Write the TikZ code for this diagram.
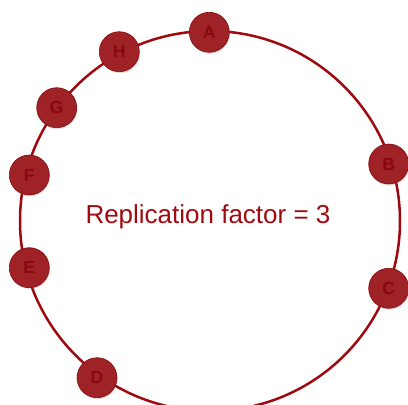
\documentclass[tikz,border=0pt]{standalone}
\usepackage{fontspec}
\setmainfont{Liberation Sans}
\usetikzlibrary{shadows}
\definecolor{ringred}{RGB}{160,8,16}
\definecolor{nodefill}{RGB}{158,34,38}
\definecolor{nodetext}{RGB}{138,8,12}
\definecolor{labelred}{RGB}{160,10,16}
\begin{document}
\begin{tikzpicture}[x=1pt,y=1pt,
  ringnode/.style={circle, fill=nodefill, draw=nodetext, line width=0.6pt,
    minimum size=40pt, inner sep=0pt, text=nodetext,
    font=\fontsize{17.5}{17.5}\selectfont\bfseries,
    drop shadow={shadow xshift=0.8pt, shadow yshift=-1.5pt, opacity=0.25}},
  ring/.style={draw=ringred, line width=2.5pt}]
\useasboundingbox (0,0) rectangle (408,-405);
\clip (0,0) rectangle (408,-405);
\coordinate (ctr) at (210,-221);
\draw[ring] (ctr) circle (190);
\node[font=\fontsize{26}{26}\selectfont, text=labelred] (lbl) at (208,-217) {Replication factor = 3};
\node[ringnode] (A) at (209.3,-32.3) {A};
\node[ringnode] (B) at (388.7,-164) {B};
\node[ringnode] (C) at (388.7,-288.3) {C};
\node[ringnode] (D) at (97,-377.7) {D};
\node[ringnode] (E) at (29.3,-267.7) {E};
\node[ringnode] (F) at (29.3,-175) {F};
\node[ringnode] (G) at (56.7,-107.7) {G};
\node[ringnode] (H) at (119.3,-51.7) {H};
\end{tikzpicture}
\end{document}
